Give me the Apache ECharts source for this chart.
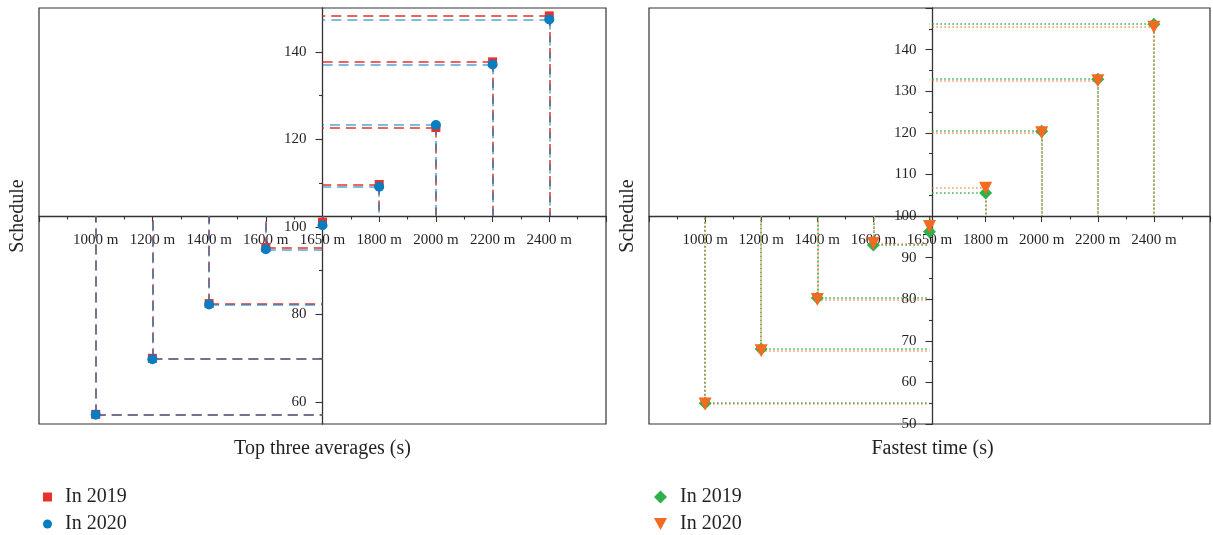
<!DOCTYPE html>
<html>
<head>
<meta charset="utf-8">
<script src="https://cdn.jsdelivr.net/npm/echarts@6/dist/echarts.min.js"></script>
<style>
html,body{margin:0;padding:0;background:#fff;}
#chart{width:1213px;height:535px;}
</style>
</head>
<body>
<div id="chart"></div>
<script>
// ---- data ----
const categories = ['1000 m', '1200 m', '1400 m', '1600 m', '1650 m', '1800 m', '2000 m', '2200 m', '2400 m'];
const avg2019 = [57.2, 70.0, 82.5, 95.3, 101.1, 109.7, 122.7, 137.7, 148.2];
const avg2020 = [57.1, 69.8, 82.3, 94.9, 100.4, 109.2, 123.3, 137.1, 147.4];
const fast2019 = [55.0, 68.0, 80.3, 93.0, 96.2, 105.5, 120.4, 132.9, 146.1];
const fast2020 = [54.8, 67.6, 79.9, 93.4, 97.5, 106.7, 120.0, 132.5, 145.4];
const leftYMajor = [60, 80, 100, 120, 140];
const leftYMinor = [70, 90, 110, 130];
const legendNames = { L19: 'In 2019', L20: 'In 2020', R19: 'In 2019', R20: 'In 2020' };

// ---- layout / style ----
const FONT = '"Liberation Serif", "Times New Roman", serif';
const TXT = '#231f20';
const AX = '#333';
const GW = 567, GH = 416;
const CENTER_SLOT = 5;              // category slot where the vertical axis sits (1650 m)
const LEFT_XCROSS = (55 + 150) / 2; // value of left y axis at the horizontal axis
const RIGHT_XCROSS = 100;

const chart = echarts.init(document.getElementById('chart'), null, { renderer: 'canvas' });

function xAxis(gi) {
  return {
    gridIndex: gi, type: 'value', min: 0, max: 10, interval: 1,
    position: 'bottom', offset: -GH / 2,
    axisLine: { onZero: false, lineStyle: { color: AX, width: 1.3 } },
    axisTick: { length: 6, lineStyle: { color: AX, width: 1.1 } },
    minorTick: { show: true, splitNumber: 2, length: 3.5, lineStyle: { color: AX, width: 1.1 } },
    axisLabel: {
      margin: 17, fontFamily: FONT, fontSize: 15, color: TXT,
      formatter: v => categories[Math.round(v) - 1] || ''
    },
    splitLine: { show: false }
  };
}

function dropLines(vals, cross) {
  const d = [];
  vals.forEach((v, i) => {
    const x = i + 1;
    d.push([{ coord: [x, v] }, { coord: [CENTER_SLOT, v] }]);
    d.push([{ coord: [x, v] }, { coord: [x, cross] }]);
  });
  return d;
}

function scatter(name, xi, yi, vals, color, symbol, size, rot, cross, dash, lw, lineOpacity) {
  return {
    name, type: 'scatter', xAxisIndex: xi, yAxisIndex: yi,
    data: vals.map((v, i) => [i + 1, v]),
    symbol, symbolSize: size, symbolRotate: rot,
    itemStyle: { color, opacity: 1 },
    z: 4,
    markLine: {
      silent: true, symbol: 'none', z: 1, animation: false,
      label: { show: false },
      lineStyle: { color, type: dash, width: lw, opacity: lineOpacity },
      emphasis: { disabled: true },
      data: dropLines(vals, cross)
    }
  };
}

function legendItem(name, icon, left, top, size, pad) {
  return {
    left, top, orient: 'vertical', itemWidth: size, itemHeight: size, symbolKeepAspect: true,
    data: [{ name, icon }], formatter: n => legendNames[n], selectedMode: false,
    textStyle: { fontFamily: FONT, fontSize: 20, color: TXT, padding: [0, 0, 0, pad] }
  };
}

const option = {
  animation: false,
  backgroundColor: '#fff',
  grid: [
    { left: 39, top: 8, width: GW, height: GH, show: true, borderColor: AX, borderWidth: 1.2, backgroundColor: 'transparent' },
    { left: 649, top: 8, width: GW, height: GH, show: true, borderColor: AX, borderWidth: 1.2, backgroundColor: 'transparent' }
  ],
  xAxis: [xAxis(0), xAxis(1)],
  yAxis: [
    {
      gridIndex: 0, type: 'value', min: 55, max: 150, position: 'left', offset: -GW / 2,
      axisLine: { show: true, onZero: false, lineStyle: { color: AX, width: 1.3 } },
      axisTick: { show: true, customValues: leftYMajor, length: 7, lineStyle: { color: AX, width: 1.1 } },
      axisLabel: { customValues: leftYMajor, margin: 16, fontFamily: FONT, fontSize: 15, color: TXT },
      splitLine: { show: false }
    },
    {
      gridIndex: 0, type: 'value', min: 55, max: 150, position: 'left', offset: -GW / 2,
      axisLine: { show: false, onZero: false },
      axisTick: { show: true, customValues: leftYMinor, length: 3.5, lineStyle: { color: AX, width: 1.1 } },
      axisLabel: { show: false },
      splitLine: { show: false }
    },
    {
      gridIndex: 1, type: 'value', min: 50, max: 150, interval: 10, position: 'left', offset: -GW / 2,
      axisLine: { show: true, onZero: false, lineStyle: { color: AX, width: 1.3 } },
      axisTick: { show: true, length: 7, lineStyle: { color: AX, width: 1.1 } },
      minorTick: { show: true, splitNumber: 2, length: 3.5, lineStyle: { color: AX, width: 1.1 } },
      axisLabel: { showMaxLabel: false, margin: 16, fontFamily: FONT, fontSize: 15, color: TXT },
      splitLine: { show: false }
    }
  ],
  legend: [
    legendItem('L19', 'rect', 38, 482, 9, 8),
    legendItem('L20', 'circle', 38, 509, 9, 8),
    legendItem('R19', 'diamond', 649, 482, 13, 8),
    legendItem('R20', 'path://M0,0L12,0L6,11Z', 649, 509, 13, 8)
  ],
  series: [
    scatter('L19', 0, 0, avg2019, '#e8312a', 'rect', 9, 0, LEFT_XCROSS, [10, 6], 1.5, 1),
    scatter('L20', 0, 0, avg2020, '#0a7dc0', 'circle', 10, 0, LEFT_XCROSS, [10, 6], 1.5, 0.7),
    scatter('R19', 1, 2, fast2019, '#2fb04a', 'diamond', 13, 0, RIGHT_XCROSS, [1.5, 2.5], 1.6, 1),
    scatter('R20', 1, 2, fast2020, '#f26b21', 'triangle', 13, 180, RIGHT_XCROSS, [1.5, 2.5], 1.6, 0.75)
  ],
  graphic: [
    { type: 'text', x: 39 + GW / 2, y: 449, style: { text: 'Top three averages (s)', font: '20px ' + FONT, fill: TXT, align: 'center', verticalAlign: 'middle' } },
    { type: 'text', x: 649 + GW / 2, y: 449, style: { text: 'Fastest time (s)', font: '20px ' + FONT, fill: TXT, align: 'center', verticalAlign: 'middle' } },
    { type: 'text', x: 18, y: 216, rotation: Math.PI / 2, style: { text: 'Schedule', font: '20px ' + FONT, fill: TXT, align: 'center', verticalAlign: 'middle' } },
    { type: 'text', x: 628, y: 216, rotation: Math.PI / 2, style: { text: 'Schedule', font: '20px ' + FONT, fill: TXT, align: 'center', verticalAlign: 'middle' } }
  ]
};
chart.setOption(option);
</script>
</body>
</html>
